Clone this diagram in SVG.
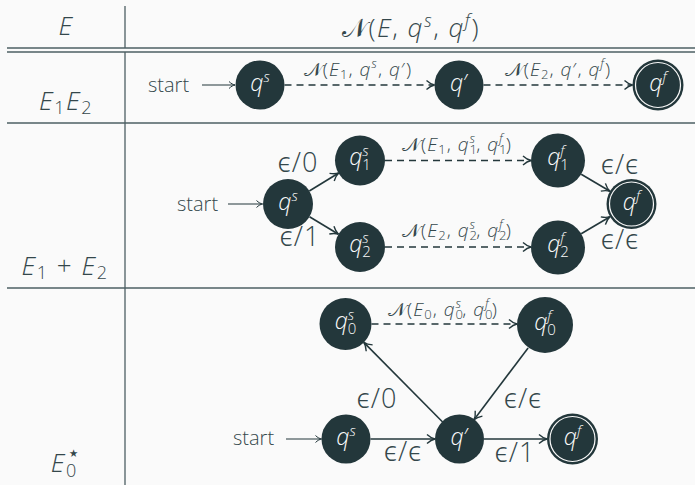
<svg xmlns="http://www.w3.org/2000/svg" width="695" height="485" viewBox="0 0 695 485">
<style>
text{font-family:"Open Sans","Noto Sans","DejaVu Sans",sans-serif;font-weight:300;fill:#34474b}
.i{font-style:italic}
.cal{font-family:"DejaVu Serif","DejaVu Sans","Noto Sans",serif;font-style:normal}
.rule{stroke:#4d5f63;stroke-width:1.3;fill:none}
.node circle{fill:#23373b}
.node text{fill:#fafafa;text-anchor:middle;font-size:23px}
.node .ring{fill:none;stroke:#fafafa;stroke-width:1.2}
.e{stroke:#23373b;stroke-width:1.6;fill:none;marker-end:url(#ah)}
.d{stroke-dasharray:7 5}
.s{stroke-width:1;marker-end:url(#ahs)}
.lab{font-size:19px;text-anchor:middle;letter-spacing:1px}
.el{font-size:27px;text-anchor:middle;letter-spacing:1px}
.big{font-size:26px;text-anchor:middle;letter-spacing:1.5px}
.st{font-size:20px}
</style>
<defs>
<marker id="ah" markerUnits="userSpaceOnUse" markerWidth="14" markerHeight="14" viewBox="-10 -7 14 14" refX="0" refY="0" orient="auto">
<path d="M-8,-4.5 C-5,-1.8 -2,-0.4 0,0 C-2,0.4 -5,1.8 -8,4.5" fill="none" stroke="#23373b" stroke-width="1.4" stroke-dasharray="none"/>
</marker>
<marker id="ahs" markerUnits="userSpaceOnUse" markerWidth="14" markerHeight="14" viewBox="-10 -7 14 14" refX="0" refY="0" orient="auto">
<path d="M-6,-3.5 C-4,-1.4 -1.5,-0.3 0,0 C-1.5,0.3 -4,1.4 -6,3.5" fill="none" stroke="#23373b" stroke-width="1" stroke-dasharray="none"/>
</marker>
</defs>
<rect width="695" height="485" fill="#fafafa"/>

<g id="table">
<line class="rule" x1="125" y1="6" x2="125" y2="48"/>
<line class="rule" x1="125" y1="52" x2="125" y2="485"/>
<line class="rule" x1="7" y1="48" x2="695" y2="48"/>
<line class="rule" x1="7" y1="52" x2="695" y2="52"/>
<line class="rule" x1="7" y1="123" x2="695" y2="123"/>
<line class="rule" x1="7" y1="288" x2="695" y2="288"/>
<text class="big" x="66" y="35"><tspan class="i">E</tspan></text>
<text class="big" x="411" y="37"><tspan class="cal">𝒩</tspan>(<tspan class="i">E</tspan>, <tspan class="i">q</tspan><tspan class="i" font-size="18" dy="-10">s</tspan><tspan dy="10">, </tspan><tspan class="i">q</tspan><tspan class="i" font-size="18" dy="-10">f</tspan><tspan dy="10">)</tspan></text>
<text class="big" x="66" y="110"><tspan class="i">E</tspan><tspan font-size="18" dy="4">1</tspan><tspan class="i" dy="-4">E</tspan><tspan font-size="18" dy="4">2</tspan></text>
<text class="big" x="65" y="275"><tspan class="i">E</tspan><tspan font-size="18" dy="4">1</tspan><tspan dy="-4"> + </tspan><tspan class="i">E</tspan><tspan font-size="18" dy="4">2</tspan></text>
<text class="big" x="66" y="472"><tspan class="i">E</tspan><tspan font-size="18" dy="5">0</tspan><tspan font-size="21" dx="-11" dy="-17">⋆</tspan></text>
</g>

<g id="connectors">
<text class="st" x="148" y="92">start</text>
<line class="e s" x1="202" y1="85" x2="235" y2="85"/>
<line class="e d" x1="284.5" y1="85" x2="434.5" y2="85"/>
<line class="e d" x1="483.5" y1="85" x2="632.5" y2="85"/>
<text class="lab" x="358" y="76"><tspan class="cal">𝒩</tspan>(<tspan class="i">E</tspan><tspan font-size="13" dy="3">1</tspan><tspan dy="-3">, </tspan><tspan class="i">q</tspan><tspan class="i" font-size="13" dy="-8">s</tspan><tspan dy="8">, </tspan><tspan class="i">q</tspan>′)</text>
<text class="lab" x="558" y="76"><tspan class="cal">𝒩</tspan>(<tspan class="i">E</tspan><tspan font-size="13" dy="3">2</tspan><tspan dy="-3">, </tspan><tspan class="i">q</tspan>′, <tspan class="i">q</tspan><tspan class="i" font-size="13" dy="-8">f</tspan><tspan dy="8">)</tspan></text>

<text class="st" x="177" y="211">start</text>
<line class="e s" x1="228" y1="204" x2="262.5" y2="204"/>
<line class="e" x1="309.3" y1="191" x2="338.7" y2="173"/>
<line class="e" x1="309.5" y1="216.8" x2="338.5" y2="234.2"/>
<line class="e d" x1="385" y1="160.5" x2="531" y2="160.5"/>
<line class="e d" x1="385" y1="247" x2="531" y2="247"/>
<line class="e" x1="581.2" y1="174.2" x2="610" y2="191.3"/>
<line class="e" x1="581.2" y1="233.8" x2="610" y2="216.7"/>
<text class="el" x="298" y="172">ϵ/0</text>
<text class="el" x="300" y="246">ϵ/1</text>
<text class="el" x="620" y="174">ϵ/ϵ</text>
<text class="el" x="620" y="249">ϵ/ϵ</text>
<text class="lab" x="457" y="151"><tspan class="cal">𝒩</tspan>(<tspan class="i">E</tspan><tspan font-size="13" dy="3">1</tspan><tspan dy="-3">, </tspan><tspan class="i">q</tspan><tspan font-size="13" dy="3">1</tspan><tspan class="i" font-size="13" dx="-8.4" dy="-11">s</tspan><tspan dy="8">, </tspan><tspan class="i">q</tspan><tspan font-size="13" dy="3">1</tspan><tspan class="i" font-size="13" dx="-8.4" dy="-11">f</tspan><tspan dx="2" dy="8">)</tspan></text>
<text class="lab" x="457" y="237"><tspan class="cal">𝒩</tspan>(<tspan class="i">E</tspan><tspan font-size="13" dy="3">2</tspan><tspan dy="-3">, </tspan><tspan class="i">q</tspan><tspan font-size="13" dy="3">2</tspan><tspan class="i" font-size="13" dx="-8.4" dy="-11">s</tspan><tspan dy="8">, </tspan><tspan class="i">q</tspan><tspan font-size="13" dy="3">2</tspan><tspan class="i" font-size="13" dx="-8.4" dy="-11">f</tspan><tspan dx="2" dy="8">)</tspan></text>

<text class="st" x="233" y="445">start</text>
<line class="e s" x1="286" y1="439" x2="321.5" y2="439"/>
<line class="e" x1="370.5" y1="439" x2="435" y2="439"/>
<line class="e" x1="484" y1="439" x2="547" y2="439"/>
<line class="e" x1="442.6" y1="422" x2="363.8" y2="342.4"/>
<line class="e" x1="528.1" y1="347.9" x2="474" y2="419.8"/>
<line class="e d" x1="371.5" y1="324" x2="517" y2="324"/>
<text class="el" x="377" y="408">ϵ/0</text>
<text class="el" x="523" y="408">ϵ/ϵ</text>
<text class="el" x="403" y="461">ϵ/ϵ</text>
<text class="el" x="515" y="462">ϵ/1</text>
<text class="lab" x="443" y="316"><tspan class="cal">𝒩</tspan>(<tspan class="i">E</tspan><tspan font-size="13" dy="3">0</tspan><tspan dy="-3">, </tspan><tspan class="i">q</tspan><tspan font-size="13" dy="3">0</tspan><tspan class="i" font-size="13" dx="-8.4" dy="-11">s</tspan><tspan dy="8">, </tspan><tspan class="i">q</tspan><tspan font-size="13" dy="3">0</tspan><tspan class="i" font-size="13" dx="-8.4" dy="-11">f</tspan><tspan dx="2" dy="8">)</tspan></text>
</g>

<g id="r1_qs" class="node"><circle cx="260" cy="85" r="24.5"/><text x="260" y="91"><tspan class="i">q</tspan><tspan class="i" font-size="15" dy="-9">s</tspan></text></g>
<g id="r1_qp" class="node"><circle cx="459" cy="85" r="24.5"/><text x="459" y="91"><tspan class="i">q</tspan>′</text></g>
<g id="r1_qf" class="node"><circle cx="658" cy="85" r="25.5"/><circle class="ring" cx="658" cy="85" r="22.5"/><text x="658" y="91"><tspan class="i">q</tspan><tspan class="i" font-size="15" dy="-9">f</tspan></text></g>

<g id="r2_qs" class="node"><circle cx="288" cy="204" r="25"/><text x="288" y="210"><tspan class="i">q</tspan><tspan class="i" font-size="15" dy="-9">s</tspan></text></g>
<g id="r2_q1s" class="node"><circle cx="360" cy="160.5" r="25"/><text x="360" y="165"><tspan class="i">q</tspan><tspan font-size="15" dy="5">1</tspan><tspan class="i" font-size="15" dx="-8.6" dy="-14">s</tspan></text></g>
<g id="r2_q2s" class="node"><circle cx="360" cy="247" r="25"/><text x="360" y="251.5"><tspan class="i">q</tspan><tspan font-size="15" dy="5">2</tspan><tspan class="i" font-size="15" dx="-8.6" dy="-14">s</tspan></text></g>
<g id="r2_q1f" class="node"><circle cx="558" cy="160.5" r="27"/><text x="558" y="165"><tspan class="i">q</tspan><tspan font-size="15" dy="5">1</tspan><tspan class="i" font-size="15" dx="-8.6" dy="-14">f</tspan></text></g>
<g id="r2_q2f" class="node"><circle cx="558" cy="247.5" r="27"/><text x="558" y="252"><tspan class="i">q</tspan><tspan font-size="15" dy="5">2</tspan><tspan class="i" font-size="15" dx="-8.6" dy="-14">f</tspan></text></g>
<g id="r2_qf" class="node"><circle cx="631.5" cy="204" r="25"/><circle class="ring" cx="631.5" cy="204" r="22"/><text x="631.5" y="210"><tspan class="i">q</tspan><tspan class="i" font-size="15" dy="-9">f</tspan></text></g>

<g id="r3_q0s" class="node"><circle cx="345.5" cy="324" r="26"/><text x="345.5" y="328.5"><tspan class="i">q</tspan><tspan font-size="15" dy="5">0</tspan><tspan class="i" font-size="15" dx="-8.6" dy="-14">s</tspan></text></g>
<g id="r3_q0f" class="node"><circle cx="545" cy="325" r="28"/><text x="545" y="329.5"><tspan class="i">q</tspan><tspan font-size="15" dy="5">0</tspan><tspan class="i" font-size="15" dx="-8.6" dy="-14">f</tspan></text></g>
<g id="r3_qs" class="node"><circle cx="346" cy="439" r="24.5"/><text x="346" y="445"><tspan class="i">q</tspan><tspan class="i" font-size="15" dy="-9">s</tspan></text></g>
<g id="r3_qp" class="node"><circle cx="459.5" cy="439" r="24.5"/><text x="459.5" y="445"><tspan class="i">q</tspan>′</text></g>
<g id="r3_qf" class="node"><circle cx="572.5" cy="439" r="25.5"/><circle class="ring" cx="572.5" cy="439" r="22.5"/><text x="572.5" y="445"><tspan class="i">q</tspan><tspan class="i" font-size="15" dy="-9">f</tspan></text></g>
</svg>
